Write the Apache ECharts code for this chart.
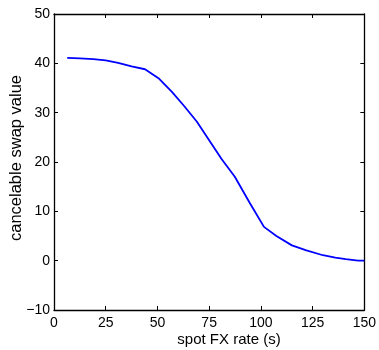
<!DOCTYPE html>
<html>
<head>
<meta charset="utf-8">
<script src="https://cdn.jsdelivr.net/npm/echarts@6/dist/echarts.min.js"></script>
<style>
  html, body { margin: 0; padding: 0; background: #fff; }
  #chart { width: 379px; height: 350px; }
</style>
</head>
<body>
<div id="chart"></div>
<script>
// spot FX rate (s) vs cancelable swap value
const spotRate = [6.4, 12.5, 19, 25, 31, 37.5, 44, 50.5, 57, 63, 69, 75, 81, 87.4, 94.5, 101.5, 107.5, 115, 122, 130, 136, 141, 147, 150]
const swapValue = [41.1, 41.0, 40.85, 40.6, 40.1, 39.4, 38.8, 37.0, 34.2, 31.3, 28.2, 24.4, 20.6, 17.0, 11.8, 6.85, 5.0, 3.1, 2.1, 1.1, 0.6, 0.3, 0, 0]
const xTicks = [0, 25, 50, 75, 100, 125, 150]
const yTicks = [-10, 0, 10, 20, 30, 40, 50]

const font = 'Liberation Sans, Arial, sans-serif'
const chart = echarts.init(document.getElementById('chart'))

const tickStyle = { show: true, inside: true, length: 4, lineStyle: { color: '#000', width: 1 } }
const lineStyle = { show: true, onZero: false, lineStyle: { color: '#000', width: 1.3 } }

const option = {
  animation: false,
  grid: { left: 54, right: 14, top: 14, bottom: 40 },
  xAxis: [
    {
      type: 'value',
      min: xTicks[0],
      max: xTicks[xTicks.length - 1],
      interval: 25,
      axisLine: lineStyle,
      axisTick: tickStyle,
      splitLine: { show: false },
      axisLabel: { color: '#000', fontFamily: font, fontSize: 14, margin: 6 }
    },
    {
      type: 'value',
      position: 'top',
      min: xTicks[0],
      max: xTicks[xTicks.length - 1],
      interval: 25,
      axisLine: lineStyle,
      axisTick: tickStyle,
      splitLine: { show: false },
      axisLabel: { show: false }
    }
  ],
  yAxis: [
    {
      type: 'value',
      min: yTicks[0],
      max: yTicks[yTicks.length - 1],
      interval: 10,
      axisLine: lineStyle,
      axisTick: tickStyle,
      splitLine: { show: false },
      axisLabel: {
        color: '#000', fontFamily: font, fontSize: 14, margin: 4,
        formatter: v => String(v).replace('-', '\u2212')
      }
    },
    {
      type: 'value',
      position: 'right',
      min: yTicks[0],
      max: yTicks[yTicks.length - 1],
      interval: 10,
      axisLine: lineStyle,
      axisTick: tickStyle,
      splitLine: { show: false },
      axisLabel: { show: false }
    }
  ],
  graphic: [
    {
      type: 'text',
      x: 229,
      y: 332,
      style: { text: 'spot FX rate (s)', fill: '#000', font: '15px ' + font, textAlign: 'center', textVerticalAlign: 'top' }
    },
    {
      type: 'text',
      x: 8,
      y: 158,
      rotation: Math.PI / 2,
      style: { text: 'cancelable swap value', fill: '#000', font: '16.5px ' + font, textAlign: 'center', textVerticalAlign: 'top' }
    }
  ],
  series: [
    {
      type: 'line',
      data: spotRate.map((x, i) => [x, swapValue[i]]),
      showSymbol: false,
      lineStyle: { color: '#0000ff', width: 1.8 },
      itemStyle: { color: '#0000ff' }
    }
  ]
}

chart.setOption(option)
</script>
</body>
</html>
